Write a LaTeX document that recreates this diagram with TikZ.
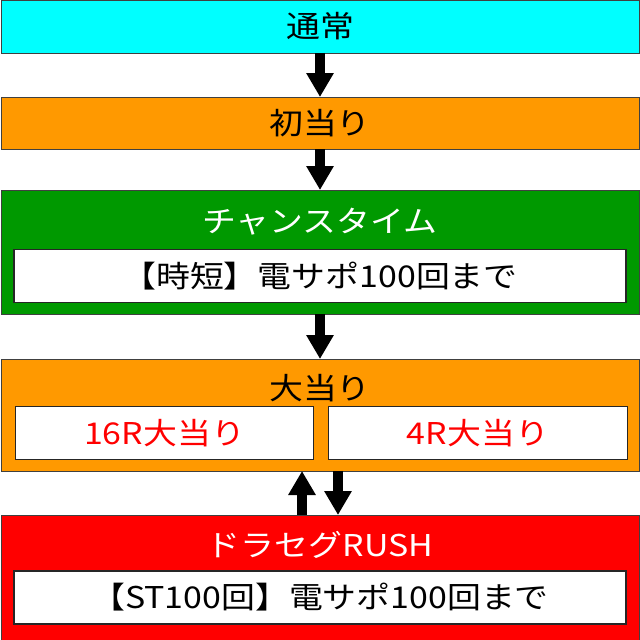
\documentclass[tikz,border=0pt]{standalone}
\usepackage{fontspec}
\setmainfont{Noto Sans CJK JP}[FakeStretch=1.13]
\usetikzlibrary{arrows.meta}
\definecolor{cyanbox}{HTML}{00FFFF}
\definecolor{orangebox}{HTML}{FF9900}
\definecolor{greenbox}{HTML}{009900}
\definecolor{redbox}{HTML}{FF0000}
\definecolor{redtext}{HTML}{FF0000}
\begin{document}
\begin{tikzpicture}[x=1pt,y=-1pt,
  outerbox/.style={draw=black!75, line width=1pt, minimum width=638pt, inner sep=0pt, outer sep=0pt},
  innerbox/.style={draw=black!85, fill=white, line width=1.6pt, inner sep=0pt, outer sep=0pt, minimum height=53pt},
  lbl/.style={font=\fontsize{30pt}{36pt}\selectfont, inner sep=0pt},
  flow/.style={line width=10pt, -{Triangle[width=26pt,length=24pt]}}]
\useasboundingbox (0,0) rectangle (640,640);
% boxes
\node[outerbox, fill=cyanbox, minimum height=53pt, lbl] (n1) at (320,26.5) {通常};
\node[outerbox, fill=orangebox, minimum height=52pt, lbl] (n2) at (320,123) {初当り};
\node[outerbox, fill=greenbox, minimum height=124pt] (n3) at (320,252) {};
\node[lbl, text=white] (t3) at (320,222) {チャンスタイム};
\node[innerbox, minimum width=612pt, lbl] (i3) at (320,276) {【時短】電サポ100回まで};
\node[outerbox, fill=orangebox, minimum height=112pt] (n4) at (320,415) {};
\node[lbl] (t4) at (320,388) {大当り};
\node[innerbox, minimum width=298pt, lbl, text=redtext] (i4a) at (164.5,433) {16R大当り};
\node[innerbox, minimum width=299pt, lbl, text=redtext] (i4b) at (478,433) {4R大当り};
\node[outerbox, fill=redbox, minimum height=126pt] (n5) at (320,578) {};
\node[lbl, text=white] (t5) at (320,545) {ドラセグRUSH};
\node[innerbox, minimum width=612pt, lbl] (i5) at (320,597.5) {【ST100回】電サポ100回まで};
% arrows
\coordinate (upx) at (302,0);
\coordinate (dnx) at (338,0);
\draw[flow] (n1.south) -- (n2.north);
\draw[flow] (n2.south) -- (n3.north);
\draw[flow] (n3.south) -- (n4.north);
\draw[flow] (n5.north -| upx) -- (n4.south -| upx);
\draw[flow] (n4.south -| dnx) -- (n5.north -| dnx);
\end{tikzpicture}
\end{document}
